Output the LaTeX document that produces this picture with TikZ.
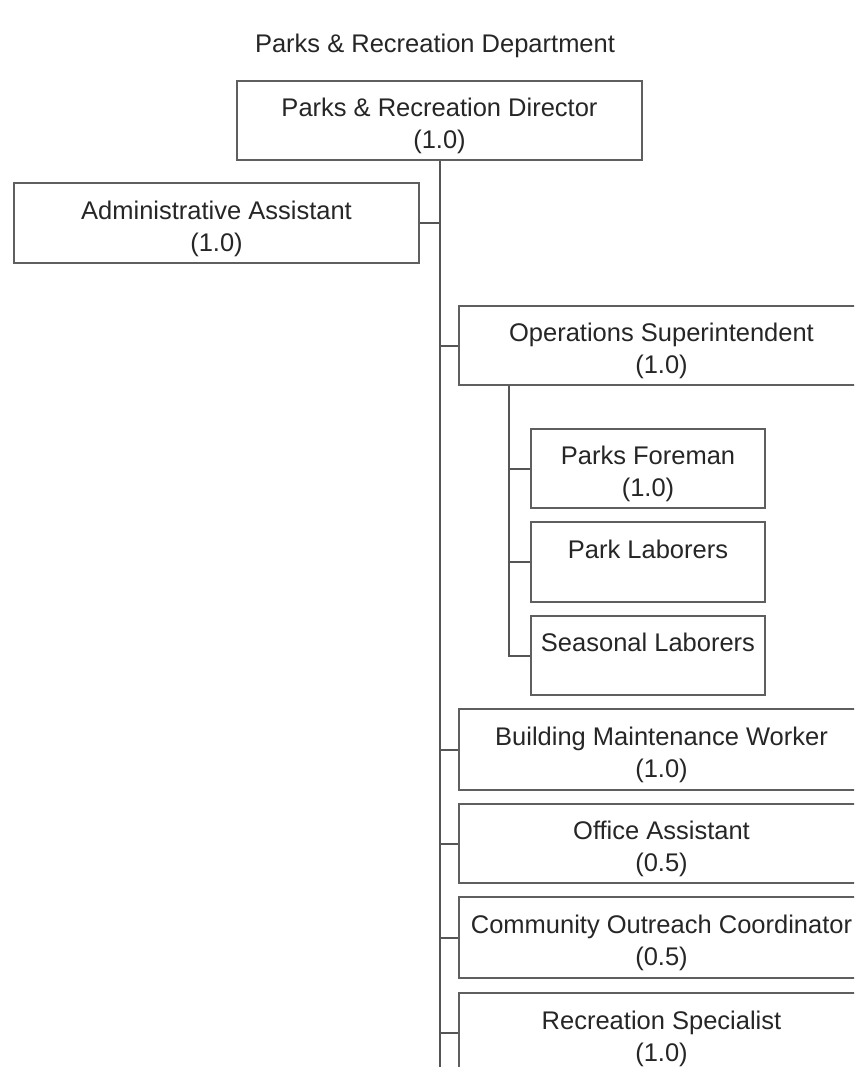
\documentclass[tikz,border=0pt]{standalone}
\usepackage{fontspec}
\setmainfont{Liberation Sans}
\definecolor{boxline}{HTML}{5F5F5F}
\definecolor{linkline}{HTML}{555555}
\definecolor{txt}{HTML}{262626}
% extra room above the first line of a box label
\newcommand{\padtop}{\rule{0pt}{30pt}}
\begin{document}
\begin{tikzpicture}[x=1pt,y=-1pt,
  every node/.style={font=\fontsize{25.5}{32}\selectfont, text=txt},
  unit/.style={draw=boxline, line width=2pt, fill=white, align=center,
    minimum width=405pt, minimum height=79pt, inner sep=0pt},
  subunit/.style={unit, minimum width=234pt},
  link/.style={draw=linkline, line width=2pt}]
\useasboundingbox (0,0) rectangle (854,1067);
\clip (0,0) rectangle (854,1067);

\node (title) at (435,46) {Parks \& Recreation Department};

% top level
\node[unit] (dir) at (439.5,120.5) {\padtop Parks \& Recreation Director\\(1.0)};
\node[unit, minimum height=80pt] (adm) at (216.5,223) {\padtop Administrative Assistant\\(1.0)};

% units reporting to the director
\node[unit] (ops) at (661.5,345.5) {\padtop Operations Superintendent\\(1.0)};
\node[unit, minimum height=81pt] (bmw) at (661.5,749.5) {\padtop Building Maintenance Worker\\(1.0)};
\node[unit] (off) at (661.5,843.5) {\padtop Office Assistant\\(0.5)};
\node[unit, minimum height=81pt] (com) at (661.5,937.5) {\padtop Community Outreach Coordinator\\(0.5)};
\node[unit, minimum height=80pt] (rec) at (661.5,1033) {\padtop Recreation Specialist\\(1.0)};

% field crews under operations
\node[subunit] (fore) at (648,468.5) {\padtop Parks Foreman\\(1.0)};
\node[subunit, minimum height=80pt] (lab) at (648,562) {\padtop Park Laborers\\\vphantom{(1.0)}};
\node[subunit] (sea) at (648,655.5) {\padtop Seasonal Laborers\\\vphantom{(1.0)}};

% main reporting line
\coordinate (trunkend) at (439.5,1070);
\draw[link] (dir.south) -- (trunkend);
\draw[link] (adm.east) -- (adm.east -| dir.south);
\foreach \n in {ops,bmw,off,com,rec}
  \draw[link] (\n.west -| dir.south) -- (\n.west);

% operations reporting line
\coordinate (opsj) at ([xshift=51pt]ops.south west);
\draw[link] (opsj) |- (sea.west);
\foreach \n in {fore,lab}
  \draw[link] (\n.west -| opsj) -- (\n.west);
\end{tikzpicture}
\end{document}
